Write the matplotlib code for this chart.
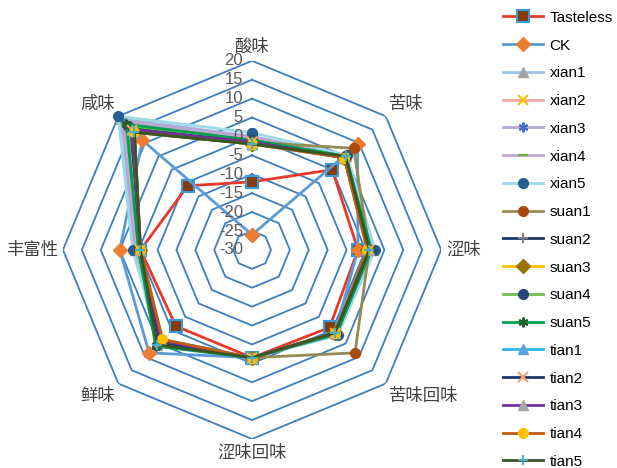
import numpy as np
import matplotlib
matplotlib.use("Agg")
import matplotlib.pyplot as plt

plt.rcParams["font.family"] = ["Liberation Sans", "Noto Sans CJK SC", "DejaVu Sans"]

# axes of the radar, clockwise from the top
categories = ["酸味", "苦味", "涩味", "苦味回味", "涩味回味", "鲜味", "丰富性", "咸味"]
ring_levels = [-25, -20, -15, -10, -5, 0, 5, 10, 15, 20]
tick_levels = [-30, -25, -20, -15, -10, -5, 0, 5, 10, 15, 20]

series_names = ["Tasteless", "CK", "xian1", "xian2", "xian3", "xian4", "xian5",
                "suan1", "suan2", "suan3", "suan4", "suan5",
                "tian1", "tian2", "tian3", "tian4", "tian5"]

tasteless = [-12, 0, -2, -1, -1.5, -1.5, -0.5, -6]
ck = [-26, 9.5, -2, 1, -1.5, 8.5, 5, 11]
xian1 = [0, 5, 2, 1.5, -1.5, 5.5, 1, 19]
xian2 = [-0.5, 4.5, 1.5, 1.5, -1.5, 5, 0.5, 18]
xian3 = [0, 5, 2, 1.5, -1.5, 5, 1, 18.5]
xian4 = [-0.5, 4.5, 1.5, 1, -1.5, 5, 0.5, 17.5]
xian5 = [1, 5.5, 2.5, 2, -1.5, 4.5, 1.6, 20]
suan1 = [-1.5, 8, 1, 8.5, -1.5, 4, -0.5, 14]
suan2 = [-1, 5, 1.5, 1.5, -1.5, 5.5, 0, 16]
suan3 = [-2, 4.5, 0.5, 1, -1.5, 4, -0.5, 14]
suan4 = [-1, 5, 1.5, 1.5, -1.5, 5.5, 0, 16.5]
suan5 = [-1, 5, 1.5, 1.5, -1.5, 6, 0, 17]
tian1 = [-2, 4.5, 0.5, 1, -1.5, 3.5, -0.5, 14]
tian2 = [-1.5, 4.5, 1, 1, -1.5, 4.5, -0.5, 15]
tian3 = [-1.5, 4.5, 1, 1, -1.5, 4, -0.5, 15]
tian4 = [-2, 4.5, 0.5, 1, -1.5, 3.5, -0.5, 14]
tian5 = [-2, 5, 1, 1, -1.5, 5.5, -0.5, 14]

all_values = [tasteless, ck, xian1, xian2, xian3, xian4, xian5,
              suan1, suan2, suan3, suan4, suan5,
              tian1, tian2, tian3, tian4, tian5]

# line colour, marker, marker face, marker edge
styles = [
    ("#E8382A", "s", "#843C0C", "#3A9AD9"),
    ("#5B9BD5", "D", "#ED7D31", "#ED7D31"),
    ("#9DC3E6", "^", "#A5A5A5", "#A5A5A5"),
    ("#F4A6A6", "x", "#FFC000", "#FFC000"),
    ("#B4A7D6", (6, 2, 0), "#4472C4", "#4472C4"),
    ("#C3A9D3", "_", "#70AD47", "#70AD47"),
    ("#9DD9E8", "o", "#255E91", "#255E91"),
    ("#948A54", "o", "#A9480F", "#A9480F"),
    ("#1F3864", "+", "#7F7F7F", "#7F7F7F"),
    ("#FFC000", "D", "#997300", "#997300"),
    ("#70C050", "o", "#264478", "#264478"),
    ("#00A050", (6, 2, 0), "#255E2E", "#255E2E"),
    ("#2EB4EC", "^", "#5BA3E0", "#5BA3E0"),
    ("#203864", "x", "#F4A070", "#F4A070"),
    ("#7030A0", "^", "#A5A5A5", "#A5A5A5"),
    ("#C55A11", "o", "#FFC000", "#FFC000"),
    ("#375623", "+", "#4BACC6", "#4BACC6"),
]

ring_color = "#3C7FC1"

fig = plt.figure(figsize=(6.17, 4.68), dpi=100)
ax = fig.add_axes([0.102, 0.062, 0.613, 0.808], projection="polar")
ax.set_theta_zero_location("N")
ax.set_theta_direction(-1)
ax.set_ylim(-30, 20)
ax.grid(False)
ax.spines["polar"].set_visible(False)
ax.set_xticks([])
ax.set_yticks([])
ax.patch.set_alpha(0)

n = len(categories)
theta = np.arange(n) * 2 * np.pi / n
theta_c = np.append(theta, theta[0])

for lv in ring_levels:
    ax.plot(theta_c, [lv] * (n + 1), color=ring_color, lw=1.3, zorder=1)

lines = []
for name, vals, (lc, mk, mfc, mec) in zip(series_names, all_values, styles):
    v = np.append(vals, vals[0])
    ms = 8 if name == "Tasteless" else 7
    mew = 1.5 if mk in ("x", "+", "_") or isinstance(mk, tuple) or name == "Tasteless" else 1
    ln, = ax.plot(theta_c, v, color=lc, lw=2, marker=mk, markersize=ms,
                  markerfacecolor=mfc, markeredgecolor=mec, markeredgewidth=mew,
                  label=name, zorder=3, clip_on=False)
    lines.append(ln)

for lv in tick_levels:
    ax.annotate(str(lv), xy=(0, lv), xytext=(-6.5, 0), textcoords="offset points",
                ha="right", va="center", fontsize=12, color="#595959", zorder=5)

label_r = 21.3
aligns = [("center", "bottom"), ("left", "bottom"), ("left", "center"), ("left", "top"),
          ("center", "top"), ("right", "top"), ("right", "center"), ("right", "bottom")]
for t, cat, (ha, va) in zip(theta, categories, aligns):
    ax.text(t, label_r, cat, ha=ha, va=va, fontsize=12.5, color="#404040",
            family=["Noto Sans CJK SC"])

fig.legend(handles=lines, labels=series_names, loc="upper left",
           bbox_to_anchor=(0.815, 0.977), frameon=False, fontsize=11,
           labelspacing=0.9, handlelength=2.6, handletextpad=0.45,
           borderpad=0, borderaxespad=0)

fig.savefig("out.png", dpi=100)
